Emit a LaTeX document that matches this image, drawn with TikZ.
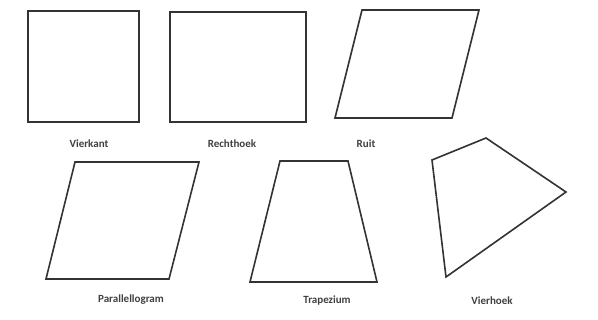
\documentclass[tikz,border=0pt]{standalone}
\usepackage{fontspec}
\setmainfont{Carlito}
\begin{document}
\begin{tikzpicture}[x=1pt,y=-1pt,
  outline/.style={draw=black!80,line width=1.6pt,line join=miter},
  lbl/.style={font=\bfseries\fontsize{11}{13}\selectfont,text=black!75,inner sep=0pt}]
\useasboundingbox[fill=white] (0,0) rectangle (598,320);
% Vierkant
\draw[outline] (28,11) rectangle (139,122);
\node[lbl] (l1) at (89,144) {Vierkant};
% Rechthoek
\draw[outline] (170,12) rectangle (306,122);
\node[lbl] (l2) at (232,144) {Rechthoek};
% Ruit
\draw[outline] (362,10) -- (479,10) -- (452,118) -- (335,118) -- cycle;
\node[lbl] (l3) at (366,144) {Ruit};
% Parallellogram
\draw[outline] (75,162) -- (199,162) -- (169,279) -- (46,279) -- cycle;
\node[lbl] (l4) at (131,300) {Parallellogram};
% Trapezium
\draw[outline] (280,161) -- (348,161) -- (377,282) -- (250,282) -- cycle;
\node[lbl] (l5) at (327,301) {Trapezium};
% Vierhoek
\draw[outline] (432,160) -- (486,138) -- (566,192) -- (446,277) -- cycle;
\node[lbl] (l6) at (492,301) {Vierhoek};
\end{tikzpicture}
\end{document}
